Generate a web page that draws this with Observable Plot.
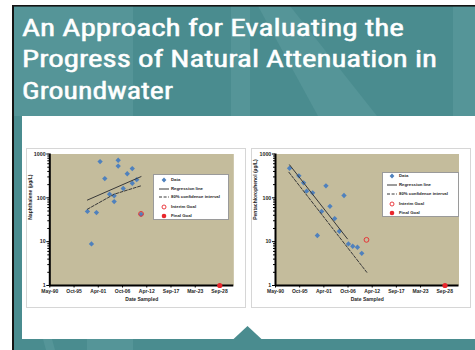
<!DOCTYPE html>
<html><head><meta charset="utf-8">
<script src="https://cdn.jsdelivr.net/npm/d3@7"></script>
<script src="https://cdn.jsdelivr.net/npm/@observablehq/plot@0.6"></script>
<style>
body{margin:0;width:475px;height:350px;overflow:hidden;background:#fff;position:relative;font-family:"Liberation Sans",Arial,sans-serif;}
.abs{position:absolute;}
.panel{position:absolute;border:1.5px solid #d6d6d6;box-sizing:border-box;background:#fff;}
.legend{position:absolute;background:#fff;border:1px solid #9a9a9a;box-sizing:border-box;font-size:4.3px;font-weight:bold;color:#262626;}
.legend .row{position:absolute;left:0;right:0;height:8px;}
.legend .row svg{position:absolute;top:0;}
.legend .row span{position:absolute;top:0;line-height:8px;white-space:nowrap;}
.chart{position:absolute;}
</style></head><body>
<svg class="abs" width="475" height="350" style="left:0;top:0">
  <rect x="0" y="0" width="475" height="350" fill="#fff"/>
  <rect x="13" y="6" width="462" height="344" fill="#4a8c8f"/>
  <g fill="#559598">
    <rect x="14" y="6" width="119" height="110"/>
    <rect x="231" y="6" width="19" height="110"/>
    <polygon points="258,6 290,6 377,116 318,116"/>
    <rect x="453" y="6" width="22" height="110"/>
    <rect x="87" y="339" width="46" height="11"/>
    <polygon points="43,339 52,339 55,350 46,350"/>
  </g>
  <rect x="22" y="116" width="453" height="223" fill="#fff"/>
  <polygon points="233,339.5 262,339.5 247.5,326" fill="#4a8c8f"/>
  <rect x="12" y="5" width="2" height="345" fill="#141414"/>
  <rect x="12" y="5" width="463" height="1.6" fill="#141414"/>
  <g fill="#fff" stroke="#fff" stroke-width="0.45" font-family="'Liberation Sans Narrow','Roboto Condensed','DejaVu Sans Condensed','Liberation Sans',sans-serif" font-size="23">
    <text id="t1" x="22" y="36" textLength="382" lengthAdjust="spacingAndGlyphs"></text>
    <text id="t2" x="22" y="67" textLength="415" lengthAdjust="spacingAndGlyphs"></text>
    <text id="t3" x="22" y="99" textLength="151" lengthAdjust="spacingAndGlyphs"></text>
  </g>
</svg>
<div class="panel" style="left:26px;top:148px;width:220px;height:159.5px"></div>
<div class="panel" style="left:251px;top:148px;width:220px;height:159.5px"></div>
<div id="c1" class="chart" style="left:26px;top:148px"></div>
<div id="c2" class="chart" style="left:251px;top:148px"></div>
<div id="l1" class="legend" style="left:153px;top:174px;width:76px;height:46px"></div>
<div id="l2" class="legend" style="left:382px;top:171.5px;width:76.5px;height:45px"></div>
<script>
// ---- text ----
const titleLines = ["An Approach for Evaluating the", "Progress of Natural Attenuation in", "Groundwater"];
const xLabel = "Date Sampled";
const leftYLabel = "Naphthalene (µg/L)";
const rightYLabel = "Pentachlorophenol (µg/L)";
const legendLabels = ["Data", "Regression line", "80% confidence interval", "Interim Goal", "Final Goal"];

// ---- axes ----
const tickDates = ["1990-05-07","1995-10-29","2001-04-19","2006-10-10","2012-04-01","2017-09-22","2023-03-15","2028-09-04"];
const tickLabels = ["May-90","Oct-95","Apr-01","Oct-06","Apr-12","Sep-17","Mar-23","Sep-28"];
const xDomain = ["1990-05-07","2031-11-30"];
const yDomain = [1, 1000];
const yTicks = [1, 10, 100, 1000];
const yMinorTicks = [2,3,4,5,6,7,8,9,20,30,40,50,60,70,80,90,200,300,400,500,600,700,800,900];

// ---- left chart data ----
const leftDates = ["2001-09-15","2005-10-18","2005-10-18","2008-12-23","2007-11-04","2002-10-10","2009-12-23","2008-12-23","2006-12-07","2003-11-04","2004-11-20","2004-11-20","1998-11-07","2000-11-21","1999-10-05","2010-12-16"];
const leftValues = [670,720,530,465,355,275,260,215,163,121,111,82,49,46,8.9,42];
const leftRegDates = ["1998-11-07","2010-12-16"];
const leftRegValues = [89,305];
const leftCiDates = ["1998-11-07","2004-11-20","2010-12-16"];
const leftCiValues = [55,121,188];

// ---- right chart data ----
const rightDates = ["1993-07-14","1995-08-24","1996-09-17","1997-05-24","1998-10-04","2001-10-10","2000-10-18","2002-09-07","2005-11-12","2003-10-02","2004-10-26","1999-10-30","2006-11-12","2007-11-04","2008-11-28","2009-11-20"];
const rightValues = [474,318,220,142,130,188,49,64,113,33.6,17.3,13.8,8.9,7.85,7.45,5.43];
const rightRegDates = ["1993-07-14","2006-08-21"];
const rightRegValues = [566,11.6];
const rightCiDates = ["1993-05-17","2011-01-10"];
const rightCiValues = [384,2.0];

// ---- goals ----
const interimDates = ["2010-12-16"];
const leftInterimValues = [43];
const rightInterimValues = [11];
const finalDates = ["2028-09-29"];
const finalValues = [1];

// ---- colors ----
const tan = "#c4bc9c";
const blue = "#4f81bd";
const red = "#e8262c";
const lineColor = "#383838";

document.getElementById("t1").textContent = titleLines[0];
document.getElementById("t2").textContent = titleLines[1];
document.getElementById("t3").textContent = titleLines[2];

const zip = (ds, vs) => ds.map((d, i) => ({date: new Date(d), value: vs[i]}));
const labelMap = new Map(tickDates.map((d, i) => [+new Date(d), tickLabels[i]]));

function chart(o) {
  return Plot.plot({
    width: o.w, height: 159.5,
    marginLeft: o.ml, marginRight: o.mr, marginTop: 5.5, marginBottom: 22.5,
    style: {background: "transparent", fontFamily: "'Liberation Sans',Arial,sans-serif", fontSize: "5px", fontWeight: "bold", color: "#262626", overflow: "visible"},
    x: {type: "utc", domain: xDomain.map(d => new Date(d))},
    y: {type: "log", domain: yDomain},
    marks: [
      Plot.frame({fill: tan, stroke: null}),
      Plot.axisY(yMinorTicks, {tickSize: 2, tickFormat: () => "", label: null, stroke: "#000"}),
      Plot.axisY(yTicks, {tickSize: 3, tickPadding: 1.2, tickFormat: d => String(d), label: null, stroke: "#000", fontSize: 5.3}),
      Plot.axisX(tickDates.map(d => new Date(d)), {tickSize: 2.5, tickPadding: 1, tickFormat: d => labelMap.get(+d), label: null, stroke: "#000"}),
      Plot.ruleX([new Date(xDomain[0])], {stroke: "#000", strokeWidth: 2}),
      Plot.ruleY([yDomain[0]], {stroke: "#000", strokeWidth: 2}),
      Plot.text([xLabel], {frameAnchor: "bottom", dy: 15.7, text: d => d, fontSize: 5}),
      Plot.text([o.yLabel], {frameAnchor: "left", rotate: -90, dx: -o.labelDx, text: d => d, fontSize: 5}),
      Plot.dot(o.data, {x: "date", y: "value", symbol: "diamond2", r: 2.4, fill: blue}),
      Plot.line(o.reg, {x: "date", y: "value", stroke: lineColor, strokeWidth: 1}),
      Plot.line(o.ci, {x: "date", y: "value", stroke: lineColor, strokeWidth: 1, strokeDasharray: "3,1.6"}),
      Plot.dot(o.interim, {x: "date", y: "value", r: 2.4, stroke: red, strokeWidth: 0.9, fill: "none"}),
      Plot.dot(o.final, {x: "date", y: "value", r: 2.6, fill: red})
    ]
  });
}

document.getElementById("c1").append(chart({
  w: 220, ml: 23.3, mr: 12.7, yLabel: leftYLabel, labelDx: 19.5,
  data: zip(leftDates, leftValues), reg: zip(leftRegDates, leftRegValues), ci: zip(leftCiDates, leftCiValues),
  interim: zip(interimDates, leftInterimValues), final: zip(finalDates, finalValues)
}));
document.getElementById("c2").append(chart({
  w: 220, ml: 24, mr: 12.5, yLabel: rightYLabel, labelDx: 20,
  data: zip(rightDates, rightValues), reg: zip(rightRegDates, rightRegValues), ci: zip(rightCiDates, rightCiValues),
  interim: zip(interimDates, rightInterimValues), final: zip(finalDates, finalValues)
}));

function legend(id, symX, textX, rowTops) {
  const el = document.getElementById(id);
  const symbols = [
    `<path d="M5,1.6 L7.4,4 L5,6.4 L2.6,4Z" fill="${blue}"/>`,
    `<line x1="0" y1="4" x2="10" y2="4" stroke="${lineColor}" stroke-width="1"/>`,
    `<line x1="0" y1="4" x2="10" y2="4" stroke="${lineColor}" stroke-width="1" stroke-dasharray="3,1.6"/>`,
    `<circle cx="5" cy="4" r="2" fill="none" stroke="${red}" stroke-width="0.9"/>`,
    `<circle cx="5" cy="4" r="2.3" fill="${red}"/>`
  ];
  legendLabels.forEach((lab, i) => {
    const row = document.createElement("div");
    row.className = "row";
    row.style.top = rowTops[i] + "px";
    row.innerHTML = `<svg width="10" height="8" style="left:${symX - 5}px">${symbols[i]}</svg><span style="left:${textX}px">${lab}</span>`;
    el.append(row);
  });
}
legend("l1", 9.5, 17, [0.5, 9.8, 18.2, 27.5, 36.5]);
legend("l2", 8.7, 16, [-0.5, 8.5, 17.8, 27.2, 36.2]);
</script>
</body></html>
